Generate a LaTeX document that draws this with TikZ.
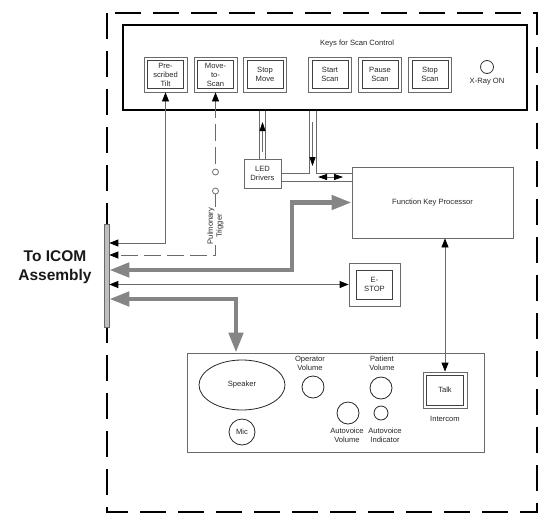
\documentclass[tikz,border=0pt]{standalone}
\usepackage{fontspec}
\setmainfont{Liberation Sans}
\usetikzlibrary{arrows.meta,shapes.geometric,calc}
\definecolor{ln}{HTML}{6A6A6A}
\definecolor{thk}{HTML}{858585}
\begin{document}
\begin{tikzpicture}[x=1pt,y=-1pt,
  lab/.style={font=\fontsize{7.6}{9}\selectfont, text=black!85, align=center, inner sep=0pt},
  keyout/.style={draw=ln, line width=0.8pt, minimum width=43pt, minimum height=35pt, inner sep=0pt},
  keyin/.style={draw=black!75, line width=0.8pt, minimum width=36pt, minimum height=28pt, inner sep=0pt},
  box/.style={draw=ln, line width=0.8pt, inner sep=0pt},
  conn/.style={draw=ln, line width=0.8pt},
  pipe/.style={draw=ln, line width=0.9pt},
  dashconn/.style={conn, dash pattern=on 17pt off 6pt},
  big/.tip={Triangle[length=20pt,width=14pt,color=thk]},
  thickarr/.style={draw=thk, line width=4.5pt, arrows={big-big}},
  >={Triangle[length=9pt,width=7pt,color=black]},
  sm/.tip={Triangle[length=9pt,width=6pt,color=black]}
]
\useasboundingbox (0,0) rectangle (553,530);
% outer dashed frame
\draw[line width=2pt, dash pattern=on 26pt off 12pt] (107,13) rectangle (537,512);

% scan control box
\node[draw=black, line width=2pt, minimum width=404pt, minimum height=85pt, inner sep=0pt] (scan) at (325,67.5) {};
\node[lab] (scantitle) at (357,44) {Keys for Scan Control};

\node[keyout] (tilt) at (165.5,74.5) {};
\node[keyin,lab] (tilti) at (tilt) {Pre-\\scribed\\Tilt};
\node[keyout] (movescan) at (215.5,74.5) {};
\node[keyin,lab] (movescani) at (movescan) {Move-\\to-\\Scan};
\node[keyout] (stopmove) at (265,74.5) {};
\node[keyin,lab] (stopmovei) at (stopmove) {Stop\\Move};
\node[keyout] (startscan) at (330,74.5) {};
\node[keyin,lab] (startscani) at (startscan) {Start\\Scan};
\node[keyout] (pausescan) at (380,74.5) {};
\node[keyin,lab] (pausescani) at (pausescan) {Pause\\Scan};
\node[keyout] (stopscan) at (430,74.5) {};
\node[keyin,lab] (stopscani) at (stopscan) {Stop\\Scan};
\node[circle, draw=black!80, line width=0.8pt, minimum size=13pt, inner sep=0pt] (xray) at (487,67) {};
\node[lab] (xraylab) at (487,82) {X-Ray ON};

% LED drivers
\node[box, minimum width=37pt, minimum height=29pt, lab] (led) at (262.5,173.5) {LED\\Drivers};

% Function key processor
\node[box, minimum width=161pt, minimum height=71pt, lab] (fkp) at (432.5,202.5) {Function Key Processor};

% E-STOP
\node[box, minimum width=51pt, minimum height=43pt] (estop) at (374.5,284.5) {};
\node[box, draw=black!75, minimum width=36pt, minimum height=29pt, lab] (estopi) at (estop) {E-\\STOP};

% ICOM bar
\node[draw=ln, fill=black!25, line width=0.6pt, minimum width=5pt, minimum height=103pt, inner sep=0pt] (icom) at (106.5,275.5) {};
\node[font=\fontsize{15.5}{19}\selectfont\bfseries, text=black!90, align=center, inner sep=0pt] (icomlab) at (55,267.5) {To ICOM\\Assembly};

% console
\node[box, minimum width=297pt, minimum height=99pt] (console) at (335.5,402.5) {};
\node[ellipse, draw=black!85, line width=0.8pt, minimum width=86pt, minimum height=50pt, inner sep=0pt, lab] (speaker) at (242,385) {Speaker};
\node[circle, draw=black!85, line width=0.8pt, minimum size=26pt, inner sep=0pt, lab] (mic) at (242,432) {Mic};
\node[circle, draw=black!85, line width=0.8pt, minimum size=22pt, inner sep=0pt] (opvol) at (313,387) {};
\node[lab] (opvollab) at (310,363.5) {Operator\\Volume};
\node[circle, draw=black!85, line width=0.8pt, minimum size=22pt, inner sep=0pt] (patvol) at (381,388) {};
\node[lab] (patvollab) at (382,363.5) {Patient\\Volume};
\node[circle, draw=black!85, line width=0.8pt, minimum size=22pt, inner sep=0pt] (avvol) at (348,413) {};
\node[lab] (avvollab) at (347,435) {Autovoice\\Volume};
\node[circle, draw=black!85, line width=0.8pt, minimum size=14pt, inner sep=0pt] (avind) at (381,413) {};
\node[lab] (avindlab) at (385,435) {Autovoice\\Indicator};
\node[box, minimum width=44pt, minimum height=36pt] (talk) at (445,390) {};
\node[box, draw=black!75, minimum width=37pt, minimum height=30pt, lab] (talki) at (talk) {Talk};
\node[lab] (intercom) at (445,419) {Intercom};

% pulmonary trigger switch
\node[circle, draw=ln, line width=0.8pt, minimum size=6pt, inner sep=0pt] (sw1) at (215.5,172) {};
\node[circle, draw=ln, line width=0.8pt, minimum size=6pt, inner sep=0pt] (sw2) at (215.5,191) {};

% ---- connectors ----
\coordinate (t1) at (tilt.south |- 0,243);
\draw[conn,<->] (icom.east |- t1) -- (t1) -- (tilt.south);

\coordinate (p1) at (movescan.south |- 0,255);
\draw[dashconn,<-] (movescan.south) -- (sw1.north);
\draw[dashconn,->] (sw2.south) -- (p1) -- (icom.east |- p1);
\node[lab, rotate=90, fill=white, inner sep=1pt] (pulm) at (215.5,226) {Pulmonary\\Trigger};

% pipes LED <-> scan
\draw[pipe] ([xshift=-3pt]led.north) -- ([xshift=-3pt]led.north |- scan.south);
\draw[pipe] ([xshift=3pt]led.north) -- ([xshift=3pt]led.north |- scan.south);
\draw[conn,sm-] (262.5,122) -- (262.5,152);

\coordinate (dl) at (309,173);
\coordinate (dr) at (316,173);
\coordinate (hb) at (316,181);
\draw[pipe] (dl |- scan.south) -- (dl) -- (led.east |- dl);
\draw[pipe] (dr |- scan.south) -- (dr) -- (fkp.west |- dr);
\draw[pipe] (led.east |- hb) -- (fkp.west |- hb);
\draw[conn,-sm] (312.5,122) -- (312.5,166);
\draw[conn,sm-sm] (318,177) -- (343,177);

% thick arrows
\coordinate (g1) at (292,270);
\draw[thickarr] (icom.east |- g1) -- (g1) -- (g1 |- fkp.west) -- (fkp.west);
\coordinate (g2) at (236,299);
\draw[thickarr] (icom.east |- g2) -- (g2) -- (g2 |- console.north);

% E-STOP link
\draw[conn,<->] (icom.east |- estop.west) -- (estop.west);

% FKP <-> Talk
\draw[conn,<->] (talk.north |- fkp.south) -- (talk.north);
\end{tikzpicture}
\end{document}
